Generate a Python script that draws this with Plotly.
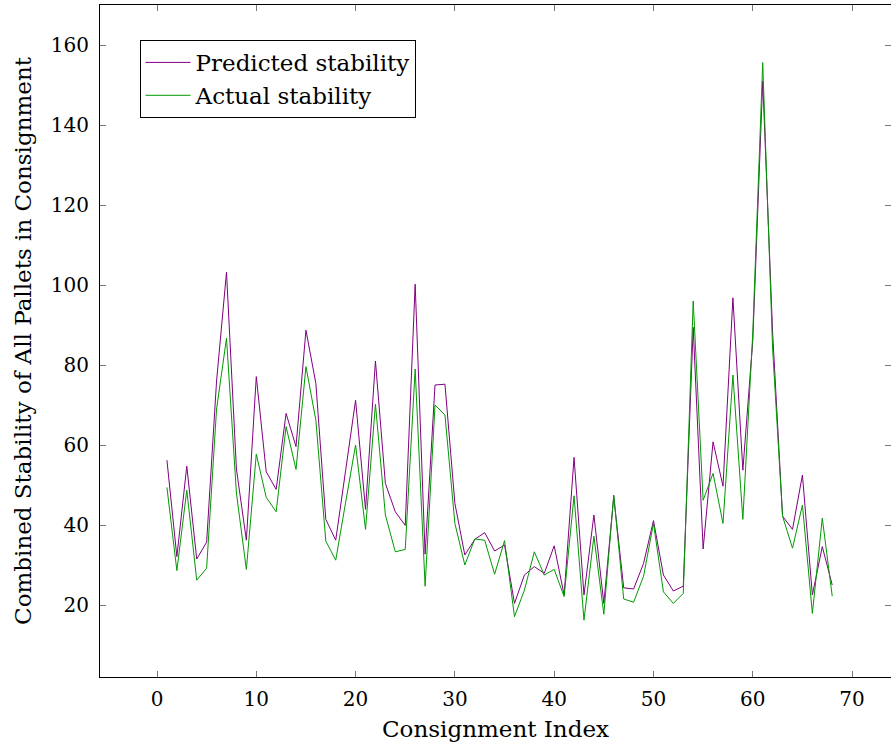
import plotly.graph_objects as go

consignment_index = list(range(1, 69))

predicted_stability = [
    56.2, 32.1, 54.7, 31.5, 35.7, 76.0, 103.2, 54.0, 36.2, 77.1,
    53.3, 48.9, 67.9, 59.6, 88.7, 75.4, 41.4, 36.2, 53.7, 71.2,
    43.9, 81.0, 50.4, 43.3, 39.9, 100.2, 32.7, 75.0, 75.2, 45.4,
    32.5, 36.4, 38.1, 33.5, 35.0, 20.4, 27.5, 29.6, 27.9, 34.8,
    22.5, 56.9, 22.5, 42.5, 20.4, 47.1, 24.3, 24.0, 30.4, 41.1,
    27.5, 23.5, 24.7, 89.4, 34.0, 60.8, 49.7, 96.8, 53.7, 86.0,
    151.0, 88.0, 42.2, 38.9, 52.5, 22.5, 34.6, 25.0,
]

actual_stability = [
    49.4, 28.6, 48.7, 26.2, 29.2, 69.0, 86.7, 48.0, 28.9, 57.7,
    46.9, 43.3, 64.6, 53.9, 79.6, 66.2, 36.0, 31.2, 45.7, 60.0,
    38.9, 70.2, 42.5, 33.3, 33.9, 79.0, 24.7, 70.0, 67.5, 40.4,
    30.0, 36.5, 36.2, 27.7, 36.1, 17.1, 23.7, 33.3, 27.5, 28.9,
    22.1, 47.3, 16.2, 37.2, 17.7, 47.5, 21.5, 20.7, 27.2, 40.4,
    23.3, 20.4, 22.9, 96.0, 46.2, 52.9, 40.4, 77.5, 41.4, 88.0,
    155.6, 84.0, 42.2, 34.2, 45.0, 17.9, 41.7, 22.2,
]

x_ticks = [0, 10, 20, 30, 40, 50, 60, 70]
y_ticks = [20, 40, 60, 80, 100, 120, 140, 160]

FONT = "DejaVu Serif, Liberation Serif, serif"

fig = go.Figure()
fig.add_trace(go.Scatter(
    x=consignment_index, y=predicted_stability, mode="lines",
    name="Predicted stability", line=dict(color="#800080", width=1),
))
fig.add_trace(go.Scatter(
    x=consignment_index, y=actual_stability, mode="lines",
    name="Actual stability", line=dict(color="#009900", width=1),
))

axis_common = dict(
    showline=True, linecolor="black", linewidth=1, mirror="ticks",
    ticks="inside", ticklen=6, tickcolor="#777", tickwidth=1,
    showgrid=False, zeroline=False,
    tickfont=dict(family=FONT, size=20, color="black"),
)

fig.update_layout(
    width=891, height=746,
    margin=dict(l=100, r=0, t=5, b=69),
    paper_bgcolor="white", plot_bgcolor="white",
    font=dict(family=FONT, color="black"),
    xaxis=dict(
        range=[-5.74, 73.92], tickvals=x_ticks,
        title=dict(text="Consignment Index", font=dict(family=FONT, size=23), standoff=10),
        ticklabelstandoff=4,
        **axis_common,
    ),
    yaxis=dict(
        range=[2.0, 170.0], tickvals=y_ticks,
        title=dict(text="Combined Stability of All Pallets in Consignment", font=dict(family=FONT, size=23), standoff=12),
        ticklabelstandoff=6,
        **axis_common,
    ),
    legend=dict(
        x=0.05, y=0.948, xanchor="left", yanchor="top",
        bgcolor="white", bordercolor="black", borderwidth=1,
        font=dict(family=FONT, size=23),
        itemwidth=45,
        tracegroupgap=0,
    ),
    showlegend=True,
)

fig.write_html("out.html")
